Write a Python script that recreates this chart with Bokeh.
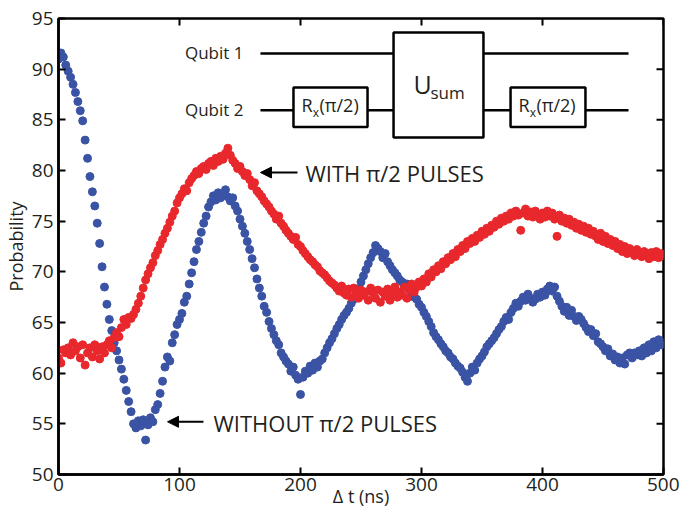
from bokeh.plotting import figure
from bokeh.models import Range1d, Label, Arrow, NormalHead, FixedTicker, ColumnDataSource
from bokeh.embed import file_html
from bokeh.resources import INLINE

# ---------------- data ----------------
dt_ns = list(range(0, 501, 2))

p_without = [
    91.0, 91.6, 91.2, 90.4, 89.8, 89.2, 88.5, 87.7, 86.8, 85.9,
    84.9, 83.0, 81.2, 79.4, 77.9, 76.5, 74.8, 72.8, 70.5, 68.5,
    66.8, 65.3, 64.2, 63.0, 62.2, 61.3, 60.4, 59.4, 58.3, 57.2,
    56.2, 55.0, 54.6, 55.3, 54.8, 55.4, 53.4, 54.9, 55.6, 55.2,
    56.4, 56.9, 58.0, 59.2, 60.6, 61.6, 61.2, 63.0, 63.8, 64.8,
    65.3, 65.9, 67.0, 67.6, 68.8, 69.9, 71.0, 72.2, 73.0, 73.9,
    74.8, 75.5, 76.4, 76.9, 77.5, 77.1, 77.8, 77.3, 77.6, 78.1,
    77.4, 77.0, 77.3, 76.5, 76.0, 75.2, 74.5, 73.8, 73.0, 72.2,
    71.3, 70.4, 69.3, 68.4, 67.6, 66.6, 66.0, 65.1, 64.4, 63.8,
    63.2, 62.8, 62.0, 61.6, 61.2, 60.9, 60.2, 60.6, 59.8, 59.4,
    57.9, 59.6, 60.2, 60.0, 60.7, 60.3, 61.0, 60.6, 61.2, 61.4,
    62.0, 62.5, 63.0, 63.4, 63.9, 64.4, 64.8, 65.3, 65.7, 66.0,
    66.4, 66.9, 67.3, 67.8, 68.3, 69.0, 69.6, 70.2, 70.8, 71.4,
    71.9, 72.6, 72.3, 72.0, 71.4, 71.8, 71.0, 70.6, 70.2, 69.9,
    69.6, 69.2, 69.0, 68.6, 68.8, 68.2, 67.9, 67.5, 67.3, 66.8,
    66.5, 66.0, 65.6, 65.1, 64.6, 64.0, 63.6, 63.3, 62.9, 62.6,
    62.2, 62.0, 61.6, 61.4, 61.0, 60.7, 60.5, 60.1, 59.6, 59.2,
    60.0, 60.6, 60.3, 61.0, 61.4, 61.7, 62.1, 62.6, 62.9, 63.2,
    63.5, 63.9, 64.3, 64.6, 65.1, 65.5, 65.3, 66.0, 66.4, 66.9,
    66.6, 67.1, 67.5, 67.2, 67.8, 67.4, 67.0, 67.3, 67.8, 67.5,
    68.0, 67.7, 68.3, 68.6, 68.1, 68.5, 67.6, 67.1, 66.6, 66.1,
    66.5, 65.7, 66.2, 65.6, 65.2, 65.6, 65.3, 64.9, 64.5, 64.1,
    64.3, 63.7, 63.9, 63.1, 62.9, 62.6, 62.2, 62.4, 61.7, 61.9,
    61.3, 61.6, 61.0, 61.5, 60.9, 61.8, 62.0, 61.5, 62.0, 61.8,
    62.2, 61.7, 62.5, 62.0, 62.8, 62.2, 63.1, 62.5, 63.3, 62.8,
    63.0,
]

p_with = [
    61.5, 61.0, 62.3, 62.0, 62.5, 61.8, 63.0, 62.2, 62.6, 61.5,
    62.8, 60.8, 62.0, 62.5, 61.6, 62.8, 62.2, 61.4, 62.6, 62.0,
    62.8, 63.2, 62.5, 63.5, 64.0, 63.6, 64.5, 65.3, 64.8, 65.5,
    65.4, 65.8, 66.3, 66.9, 67.6, 68.4, 69.2, 69.8, 70.4, 70.9,
    71.6, 72.1, 72.7, 73.2, 73.8, 74.3, 74.9, 75.5, 76.0, 76.8,
    77.3, 77.7, 78.2, 78.0, 78.8, 79.2, 79.5, 79.9, 79.7, 80.2,
    80.4, 80.1, 80.7, 80.9, 80.5, 81.2, 80.9, 81.4, 81.1, 81.7,
    82.2, 81.5, 81.0, 80.7, 80.2, 80.4, 79.9, 79.5, 79.7, 79.1,
    78.5, 78.8, 78.0, 77.7, 77.4, 77.0, 76.7, 76.4, 76.0, 75.7,
    75.2, 75.5, 74.8, 74.5, 74.1, 73.8, 73.5, 73.2, 73.4, 72.7,
    72.5, 72.1, 71.8, 71.5, 71.2, 71.0, 70.7, 70.5, 70.1, 69.9,
    69.7, 69.4, 69.1, 68.9, 68.7, 68.4, 68.1, 68.6, 67.9, 67.7,
    68.3, 67.5, 68.4, 67.8, 67.4, 68.2, 67.7, 68.0, 67.2, 68.4,
    67.9, 67.4, 68.2, 67.0, 68.0, 67.6, 68.3, 67.2, 67.8, 68.5,
    67.5, 68.0, 67.7, 68.5, 67.4, 68.2, 68.8, 68.0, 68.5, 69.0,
    68.6, 69.3, 69.0, 69.8, 69.5, 70.2, 70.0, 70.6, 70.3, 71.0,
    70.8, 71.4, 71.2, 71.8, 71.5, 72.2, 72.0, 72.6, 72.3, 73.0,
    72.8, 73.3, 73.0, 73.6, 73.4, 74.0, 73.7, 74.3, 74.0, 74.6,
    74.4, 75.0, 74.7, 75.3, 75.0, 75.5, 75.2, 75.8, 75.5, 76.0,
    75.6, 74.1, 75.8, 76.2, 75.5, 75.9, 75.4, 76.0, 75.6, 75.2,
    75.8, 75.4, 76.0, 75.5, 75.8, 75.2, 73.5, 75.6, 75.0, 75.3,
    74.8, 75.2, 74.6, 74.9, 74.3, 74.7, 74.1, 74.5, 73.9, 74.3,
    73.7, 74.0, 73.5, 73.2, 73.8, 73.0, 73.5, 72.8, 73.2, 72.6,
    73.0, 72.3, 72.7, 72.0, 72.5, 71.8, 72.3, 72.0, 71.6, 72.2,
    71.8, 71.5, 72.0, 71.7, 71.3, 71.9, 71.5, 72.0, 71.4, 71.8,
    71.6,
]

x_ticks = [0, 100, 200, 300, 400, 500]
y_ticks = [50, 55, 60, 65, 70, 75, 80, 85, 90, 95]
x_label = "\u0394 t (ns)"
y_label = "Probability"
label_with = "WITH \u03c0/2 PULSES"
label_without = "WITHOUT \u03c0/2 PULSES"

assert len(dt_ns) == len(p_without) == len(p_with)

# ---------------- style ----------------
FONT = "Open Sans"
INK = "#231f20"
BLUE = "#3a53a4"
RED = "#e8282c"
X0, X1, Y0, Y1 = 0, 500, 50, 95

p = figure(width=679, height=518,
           x_range=Range1d(X0, X1), y_range=Range1d(Y0, Y1),
           output_backend="svg", toolbar_location=None,
           min_border_left=58, min_border_right=16,
           min_border_top=18, min_border_bottom=44,
           background_fill_color="white", border_fill_color="white")
p.outline_line_color = "black"
p.outline_line_width = 2.5
p.grid.visible = False

p.xaxis.ticker = FixedTicker(ticks=x_ticks)
p.yaxis.ticker = FixedTicker(ticks=y_ticks)
for ax in (p.xaxis[0], p.yaxis[0]):
    ax.axis_line_width = 2.5
    ax.axis_line_color = "black"
    ax.major_tick_in = 7
    ax.major_tick_out = 0
    ax.major_tick_line_width = 2
    ax.major_tick_line_color = "black"
    ax.minor_tick_line_color = None
    ax.major_label_text_font = FONT
    ax.major_label_text_font_size = "19px"
    ax.major_label_text_color = INK
    ax.axis_label_text_font = FONT
    ax.axis_label_text_font_size = "18px"
    ax.axis_label_text_font_style = "normal"
    ax.axis_label_text_color = INK

p.xaxis[0].axis_label = x_label
p.xaxis[0].major_label_standoff = 3
p.xaxis[0].axis_label_standoff = -10
p.yaxis[0].axis_label = y_label
p.yaxis[0].major_label_standoff = 5
p.yaxis[0].axis_label_standoff = 1

# inward ticks on the top and right edges of the box, at the same tick values
tick_len_y = 7 / 10.13   # 7 px in data units of y
tick_len_x = 7 / 1.21    # 7 px in data units of x
top_ticks = dict(x0=x_ticks, x1=x_ticks, y0=[Y1] * len(x_ticks), y1=[Y1 - tick_len_y] * len(x_ticks))
right_ticks = dict(x0=[X1] * len(y_ticks), x1=[X1 - tick_len_x] * len(y_ticks), y0=y_ticks, y1=y_ticks)
p.segment(x0="x0", y0="y0", x1="x1", y1="y1", source=ColumnDataSource(top_ticks),
          line_color="black", line_width=2)
p.segment(x0="x0", y0="y0", x1="x1", y1="y1", source=ColumnDataSource(right_ticks),
          line_color="black", line_width=2)

# ---------------- data marks ----------------
src = ColumnDataSource(dict(t=dt_ns, without=p_without, with_=p_with))
p.scatter("t", "without", source=src, size=8, fill_color=BLUE, line_color=BLUE)
p.scatter("t", "with_", source=src, size=8, fill_color=RED, line_color=RED)

# ---------------- annotations ----------------
head = dict(size=11, fill_color="black", line_color="black")
p.add_layout(Arrow(end=NormalHead(**head), x_start=197.5, y_start=79.8, x_end=166.9, y_end=79.8,
                   line_width=2, line_color="black"))
p.add_layout(Arrow(end=NormalHead(**head), x_start=119.8, y_start=55.2, x_end=90.1, y_end=55.2,
                   line_width=2, line_color="black"))

def txt(x, y, s, size, align="left"):
    p.add_layout(Label(x=x, y=y, text=s, text_align=align, text_baseline="alphabetic",
                       text_font=FONT, text_font_size=size, text_color=INK))

txt(204.1, 79.8, label_with, "22px")
txt(128.1, 55.05, label_without, "22px")

# ---------------- circuit inset ----------------
wires = dict(
    x0=[166.9, 351.2, 166.9, 255.4, 351.2, 435.5],
    x1=[276.9, 471.1, 194.2, 276.9, 373.6, 471.1],
    y0=[91.55, 91.55, 85.95, 85.95, 85.95, 85.95],
    y1=[91.55, 91.55, 85.95, 85.95, 85.95, 85.95],
)
p.segment(x0="x0", y0="y0", x1="x1", y1="y1", source=ColumnDataSource(wires),
          line_color="black", line_width=2.5)
boxes = dict(
    left=[194.2, 276.9, 373.6],
    right=[255.4, 351.2, 435.5],
    bottom=[84.3, 83.25, 84.3],
    top=[88.2, 93.62, 88.2],
)
p.quad(left="left", right="right", bottom="bottom", top="top", source=ColumnDataSource(boxes),
       fill_color="white", line_color="black", line_width=2.5)

txt(152.9, 91.6, "Qubit 1", "17px", "right")
txt(152.9, 86.0, "Qubit 2", "17px", "right")
for dx in (0.0, 179.3):
    txt(200.8 + dx, 86.5, "R", "18px")
    txt(210.2 + dx, 85.75, "x", "12px")
    txt(215.7 + dx, 86.5, "(\u03c0/2)", "18px")
txt(293.4, 88.5, "U", "25px")
txt(307.4, 87.65, "sum", "17px")

open("out.html", "w").write(file_html(p, INLINE))
